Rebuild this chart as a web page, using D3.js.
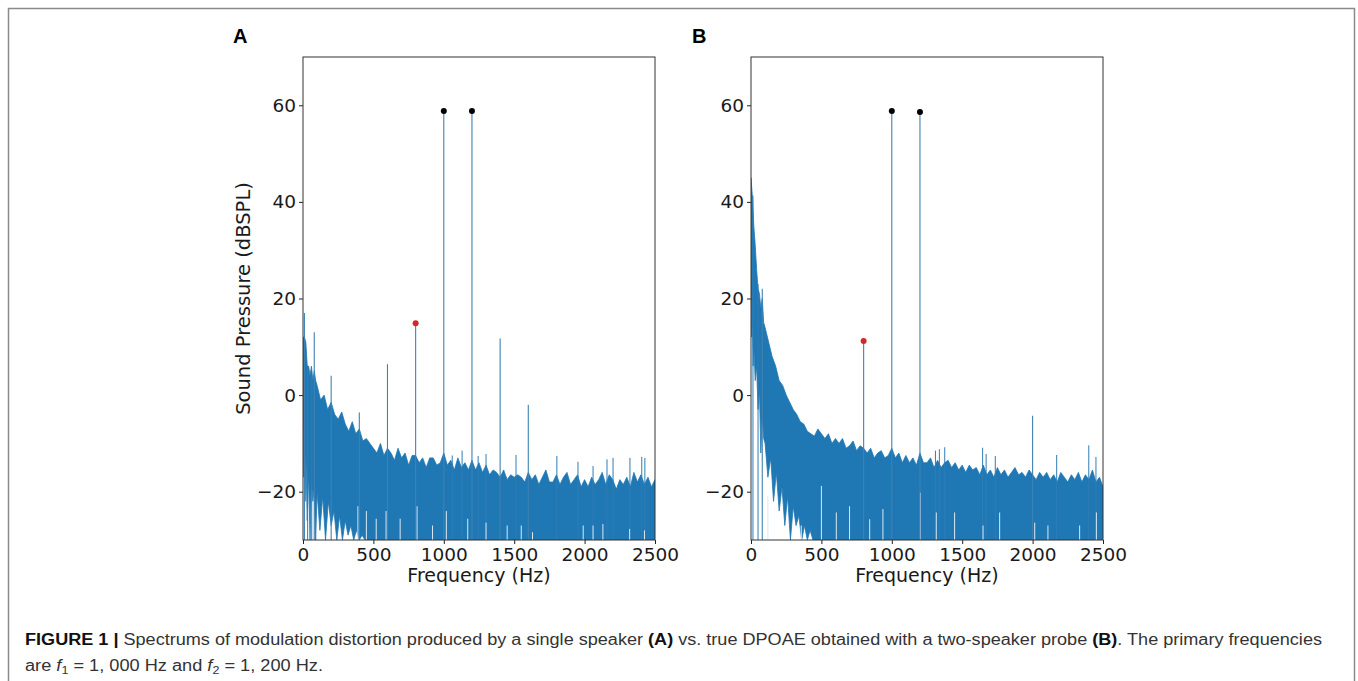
<!DOCTYPE html>
<html>
<head>
<meta charset="utf-8">
<script src="https://cdn.jsdelivr.net/npm/d3@7"></script>
<style>
  body { margin: 0; background: #fff; }
</style>
</head>
<body>
<script>
// frequency grid for the upper edge of the noise band (Hz)
const BAND_FREQ = [0, 10, 20, 30, 40, 50, 60, 70, 80, 90, 100,
  125, 150, 175, 200, 225, 250, 275, 300, 325, 350, 375, 400, 425, 450, 475,
  500, 525, 550, 575, 600, 625, 650, 675, 700, 725, 750, 775, 800, 825, 850, 875,
  900, 925, 950, 975, 1000, 1025, 1050, 1075, 1100, 1125, 1150, 1175, 1200, 1225,
  1250, 1275, 1300, 1325, 1350, 1375, 1400, 1425, 1450, 1475, 1500, 1525, 1550,
  1575, 1600, 1625, 1650, 1675, 1700, 1725, 1750, 1775, 1800, 1825, 1850, 1875,
  1900, 1925, 1950, 1975, 2000, 2025, 2050, 2075, 2100, 2125, 2150, 2175, 2200,
  2225, 2250, 2275, 2300, 2325, 2350, 2375, 2400, 2425, 2450, 2475, 2500];

// upper edge of the noise (dB SPL)
const A_UPPER = [12, 12, 11, 6, 6, 4, 6, 3, 5, 3, 2,
  -1, 0, -3, -1.5, -4, -5, -3.5, -6, -7.5, -5.5, -8, -7, -9.5, -9, -10,
  -11, -12, -10, -12.5, -11, -12, -13.5, -11, -13, -12, -14.5, -12.5, -12.5, -14, -13, -15,
  -13, -13, -14.5, -14, -12, -14.5, -13.5, -15.5, -13, -15, -14, -15.5, -13.5, -15.5,
  -14, -16, -14.5, -16.5, -15.5, -16, -17, -15.5, -17.5, -16.5, -17, -16.5, -17,
  -18, -16, -17.5, -16.5, -18.5, -17, -15.5, -18, -18, -16.5, -18.5, -17, -16,
  -18.5, -17.5, -16.5, -19, -17.5, -19, -17, -18.5, -17.5, -16, -18.5, -16.5, -17.5,
  -19.5, -17.5, -18.5, -17, -19, -16, -18, -16.5, -18.5, -17, -19, -17.5];

const B_UPPER = [45, 41, 35, 31, 26, 22, 21, 18, 20, 15, 14,
  11, 8, 6, 3, 2, 0, -1.5, -3, -4, -5.5, -6, -7.5, -8, -8.5, -7,
  -8, -9, -8, -10, -9, -10, -9, -11, -10.5, -9.5, -11.5, -10.5, -11, -12, -11, -13,
  -12, -11.5, -13, -12.5, -11, -13, -12, -14, -12.5, -14, -13, -14.5, -12, -14,
  -14, -13, -15, -13.5, -15, -14, -13.5, -15, -14, -15.5, -14.5, -16, -14.5,
  -15.5, -15, -16.5, -14.5, -16.5, -15.5, -17, -15, -16.5, -15.5, -17, -16, -15,
  -16.5, -16, -17, -15.5, -16.5, -17.5, -16, -17, -16, -17.5, -16.5, -18, -16,
  -17, -18, -16.5, -17.5, -16, -18, -16.5, -17.5, -15.5, -18, -17, -19];

// lower edge of the noise (clipped at the axis floor)
const LOWER_FREQ = [0, 5, 10, 15, 20, 30, 40, 50, 60, 70, 80, 90, 100, 120, 140,
  160, 180, 200, 220, 240, 260, 280, 300, 320, 340, 360, 380, 400, 420, 440, 460, 2500];
const A_LOWER = [-6, -17, -9, -22, -12, -26, -16, -30, -18, -22, -19, -30, -20, -28, -21,
  -30, -22, -27, -24, -30, -25, -30, -26, -29, -27, -30, -28, -30, -29, -30, -30, -30];
const B_LOWER = [20, 12, 16, 6, 10, 3, 6, -3, 1, -12, -4, -9, -10, -17, -13,
  -22, -16, -24, -19, -27, -21, -30, -23, -27, -25, -30, -27, -30, -28, -30, -30, -30];

// thin noise spikes sticking out above the band
const A_SPIKE_F = [33, 62, 1060, 1130, 1244, 1300, 1513, 1803, 1953, 2060, 2159, 2202, 2322, 2406, 2428];
const A_SPIKE_DB = [6, 4, -12.5, -11.5, -12.6, -12.2, -12.4, -12.6, -13.8, -14.7, -13.3, -13, -13, -12.8, -13];
const B_SPIKE_F = [14, 50, 1310, 1338, 1376, 1645, 1670, 1735, 2171, 2399, 2450];
const B_SPIKE_DB = [41.3, 23, -11.5, -11.2, -10.8, -10.9, -12.2, -12.6, -12.4, -10.4, -12.8];

// pale streaks near the floor of the band (Hz, top in dB SPL)
const A_GAP_F = [390, 450, 520, 590, 690, 810, 920, 1018, 1170, 1300, 1450, 1550, 1630, 1990, 2060, 2130, 2320, 2425];
const A_GAP_DB = [-23, -24, -25.6, -24, -25.6, -23, -27, -24, -25.6, -26.4, -27, -27, -28.4, -27, -27, -26.7, -27.7, -28];
const B_GAP_F = [120, 357, 500, 606, 700, 843, 937, 1203, 1316, 1446, 1648, 1766, 2015, 2109, 2334, 2453];
const B_GAP_DB = [-21, -27, -18.8, -24.3, -23, -25.7, -23.6, -20.2, -24.3, -24.3, -27, -24.3, -26.4, -27, -27, -24.3];

// single-bin peaks (Hz, dB SPL)
const A_PEAK_F = [10, 80, 200, 400, 600, 800, 1000, 1200, 1400, 1600];
const A_PEAK_DB = [17, 13, 4, -3.6, 6.4, 14.9, 58.8, 58.8, 11.7, -2];
const B_PEAK_F = [80, 800, 1000, 1200, 2000];
const B_PEAK_DB = [22, 11.2, 58.8, 58.6, -4.3];

// marked points: DP (red) and primaries (black)
const A_MARK_F = [800, 1000, 1200];
const A_MARK_DB = [14.9, 58.8, 58.8];
const B_MARK_F = [800, 1000, 1200];
const B_MARK_DB = [11.2, 58.8, 58.6];
const MARK_COLOR = ['#d62728', '#000', '#000'];

const X_TICKS = [0, 500, 1000, 1500, 2000, 2500];
const Y_TICKS = [-20, 0, 20, 40, 60];

const MPL_FONT = '"DejaVu Sans", sans-serif';
const CAP_FONT = '"Liberation Sans", Arial, sans-serif';

const svg = d3.select('body').append('svg')
  .attr('width', 1358)
  .attr('height', 681);

// figure frame
svg.append('rect')
  .attr('x', 8.5).attr('y', 8.5)
  .attr('width', 1346).attr('height', 690)
  .attr('fill', 'none')
  .attr('stroke', '#8a8a8a')
  .attr('stroke-width', 1.5);

function stems(sel, cls, fs, dbs, x, y, color, width)
{
  sel.selectAll('line.' + cls)
    .data(fs).enter().append('line')
    .attr('class', cls)
    .attr('x1', d => x(d)).attr('x2', d => x(d))
    .attr('y1', y(-30))
    .attr('y2', (d, i) => y(dbs[i]))
    .attr('stroke', color)
    .attr('stroke-width', width);
}

function plot(p)
{
  const top = 57, bottom = 540;
  const x = d3.scaleLinear().domain([0, 2500]).range([p.left, p.right]);
  const y = d3.scaleLinear().domain([-30, 70]).range([bottom, top]);
  const g = svg.append('g');

  const clipId = 'clip' + p.name;
  g.append('clipPath').attr('id', clipId)
    .append('rect')
    .attr('x', p.left).attr('y', top)
    .attr('width', p.right - p.left).attr('height', bottom - top);

  const plotArea = g.append('g').attr('clip-path', `url(#${clipId})`);

  const up = p.freq.map((f, i) => [f, p.upper[i]]);
  const lo = p.lowFreq.map((f, i) => [f, p.lower[i]]).reverse();
  const line = d3.line().x(d => x(d[0])).y(d => y(d[1]));

  plotArea.append('path')
    .attr('d', line(up.concat(lo)) + 'Z')
    .attr('fill', '#1f77b4')
    .attr('stroke', '#1f77b4')
    .attr('stroke-width', 0.8)
    .attr('stroke-linejoin', 'miter');

  stems(plotArea, 'spike', p.spikeF, p.spikeDb, x, y, '#2f7db5', 1);
  stems(plotArea, 'gap', p.gapF, p.gapDb, x, y, '#dce9f3', 1);
  stems(plotArea, 'peak', p.peakF, p.peakDb, x, y, '#3f82b2', 1.1);

  plotArea.selectAll('circle')
    .data(p.markF).enter().append('circle')
    .attr('cx', d => x(d))
    .attr('cy', (d, i) => y(p.markDb[i]))
    .attr('r', 3)
    .attr('fill', (d, i) => MARK_COLOR[i]);

  // axes
  const ax = g.append('g')
    .attr('transform', `translate(0,${bottom})`)
    .call(d3.axisBottom(x).tickValues(X_TICKS).tickFormat(d3.format('d'))
      .tickSize(4).tickPadding(4));
  const ay = g.append('g')
    .attr('transform', `translate(${p.left},0)`)
    .call(d3.axisLeft(y).tickValues(Y_TICKS).tickSize(4).tickPadding(3));
  [ax, ay].forEach(a => {
    a.select('.domain').remove();
    a.selectAll('line').attr('stroke', '#222');
    a.selectAll('text')
      .attr('fill', '#1a1a1a')
      .style('font-size', '18.5px')
      .style('font-family', MPL_FONT);
  });

  g.append('rect')
    .attr('x', p.left).attr('y', top)
    .attr('width', p.right - p.left).attr('height', bottom - top)
    .attr('fill', 'none')
    .attr('stroke', '#333')
    .attr('stroke-width', 1);

  g.append('text')
    .attr('x', (p.left + p.right) / 2)
    .attr('y', 582)
    .attr('text-anchor', 'middle')
    .attr('fill', '#1a1a1a')
    .style('font-family', MPL_FONT)
    .style('font-size', '19px')
    .text('Frequency (Hz)');

  if (p.ylabel) {
    g.append('text')
      .attr('transform', `translate(250,${(top + bottom) / 2}) rotate(-90)`)
      .attr('text-anchor', 'middle')
      .attr('fill', '#1a1a1a')
      .style('font-family', MPL_FONT)
      .style('font-size', '19.5px')
      .text(p.ylabel);
  }

  g.append('text')
    .attr('x', p.labelX)
    .attr('y', 43)
    .attr('fill', '#000')
    .style('font-family', CAP_FONT)
    .style('font-weight', 'bold')
    .style('font-size', '20px')
    .text(p.name);
}

plot({
  name: 'A', left: 303, right: 655, labelX: 233,
  freq: BAND_FREQ, upper: A_UPPER, lowFreq: LOWER_FREQ, lower: A_LOWER,
  spikeF: A_SPIKE_F, spikeDb: A_SPIKE_DB, gapF: A_GAP_F, gapDb: A_GAP_DB,
  peakF: A_PEAK_F, peakDb: A_PEAK_DB, markF: A_MARK_F, markDb: A_MARK_DB,
  ylabel: 'Sound Pressure (dBSPL)'
});
plot({
  name: 'B', left: 751, right: 1103, labelX: 692,
  freq: BAND_FREQ, upper: B_UPPER, lowFreq: LOWER_FREQ, lower: B_LOWER,
  spikeF: B_SPIKE_F, spikeDb: B_SPIKE_DB, gapF: B_GAP_F, gapDb: B_GAP_DB,
  peakF: B_PEAK_F, peakDb: B_PEAK_DB, markF: B_MARK_F, markDb: B_MARK_DB,
  ylabel: null
});

// caption
const l1 = svg.append('text')
  .attr('x', 25).attr('y', 645)
  .attr('fill', '#333')
  .attr('textLength', 1297)
  .attr('lengthAdjust', 'spacingAndGlyphs')
  .style('font-family', CAP_FONT)
  .style('font-size', '16px');
l1.append('tspan').style('font-weight', 'bold').attr('fill', '#111').text('FIGURE 1 | ');
l1.append('tspan').text('Spectrums of modulation distortion produced by a single speaker ');
l1.append('tspan').style('font-weight', 'bold').attr('fill', '#111').text('(A)');
l1.append('tspan').text(' vs. true DPOAE obtained with a two-speaker probe ');
l1.append('tspan').style('font-weight', 'bold').attr('fill', '#111').text('(B)');
l1.append('tspan').text('. The primary frequencies');

const l2 = svg.append('text')
  .attr('x', 25).attr('y', 671)
  .attr('fill', '#333')
  .attr('textLength', 298)
  .attr('lengthAdjust', 'spacingAndGlyphs')
  .style('font-family', CAP_FONT)
  .style('font-size', '16px');
l2.append('tspan').text('are ');
l2.append('tspan').style('font-style', 'italic').text('f');
l2.append('tspan').attr('dy', 3).style('font-size', '11px').text('1');
l2.append('tspan').attr('dy', -3).text(' = 1, 000 Hz and ');
l2.append('tspan').style('font-style', 'italic').text('f');
l2.append('tspan').attr('dy', 3).style('font-size', '11px').text('2');
l2.append('tspan').attr('dy', -3).text(' = 1, 200 Hz.');
</script>
</body>
</html>
